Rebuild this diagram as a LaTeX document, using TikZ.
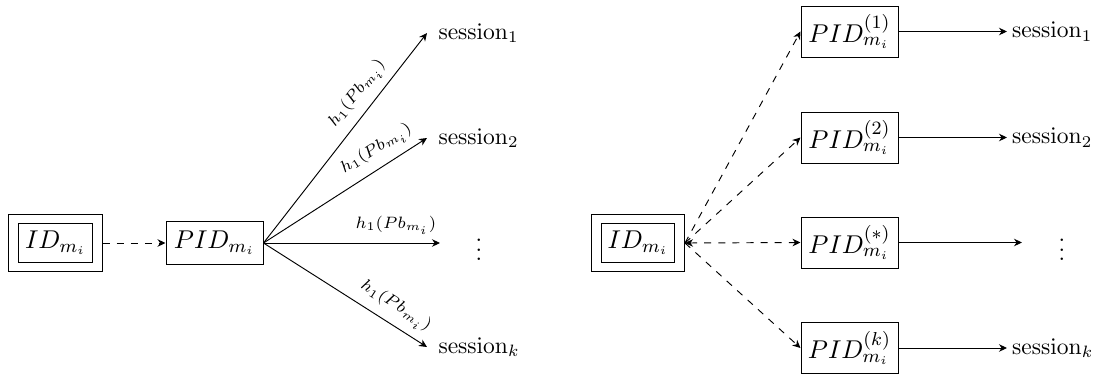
\documentclass[tikz,border=0pt]{standalone}
\usepackage{amsmath}
\usetikzlibrary{arrows.meta}
\begin{document}
\begin{tikzpicture}[x=0.4255pt,y=-0.4255pt,
  >={Stealth[length=3.4pt, width=3.2pt, inset=1.1pt]},
  boxfont/.style={font=\fontsize{11}{13}\selectfont},
  pidbox/.style={draw, inner sep=1pt, boxfont, minimum width=41.3pt, minimum height=17.9pt},
  pidtall/.style={pidbox, minimum height=21.7pt},
  idin/.style={draw, inner sep=1pt, boxfont, minimum width=31.1pt, minimum height=16.2pt},
  idout/.style={draw, inner sep=0pt, minimum width=39.6pt, minimum height=24.5pt},
  sessL/.style={anchor=west, inner sep=4.7pt},
  sessR/.style={anchor=west, inner sep=2pt},
  lab/.style={font=\scriptsize, above, sloped},
  link/.style={->},
  dlink/.style={->, dashed}]
\useasboundingbox (0,0) rectangle (1102,375);

% ---------- left: one pseudonym, several hashed sessions ----------
\node[idout] (idLo) at (55.5,243) {};
\node[idin]  (idLi) at (55.5,243) {$ID_{m_i}$};
\node[pidbox] (pidL) at (214.5,243) {$PID_{m_i}$};

\node[sessL] (sL1) at (427,33)  {$\mathrm{session}_1$};
\node[sessL] (sL2) at (427,138) {$\mathrm{session}_2$};
\node[sessL] (sLk) at (427,347) {$\mathrm{session}_k$};
\node (dotsL) at (479,243) {$\vdots$};
\coordinate (endL) at (440,243);

\draw[dlink] (idLo.east) -- (pidL.west);
\draw[link] (pidL.east) -- node[lab, pos=0.66] {$h_1(Pb_{m_i})$} (sL1.west);
\draw[link] (pidL.east) -- node[lab, pos=0.75] {$h_1(Pb_{m_i})$} (sL2.west);
\draw[link] (pidL.east) -- node[lab, pos=0.75] {$h_1(Pb_{m_i})$} (endL);
\draw[link] (pidL.east) -- node[lab, pos=0.75] {$h_1(Pb_{m_i})$} (sLk.west);

% ---------- right: one pseudonym per session ----------
\node[idout] (idRo) at (638,243) {};
\node[idin]  (idRi) at (638,243) {$ID_{m_i}$};

\node[pidtall] (p1) at (849.5,31.5)  {$PID_{m_i}^{(1)}$};
\node[pidtall] (p2) at (849.5,137.5) {$PID_{m_i}^{(2)}$};
\node[pidtall] (ps) at (849.5,242.5) {$PID_{m_i}^{(*)}$};
\node[pidtall] (pk) at (849.5,348)   {$PID_{m_i}^{(k)}$};

\node[sessR] (sR1) at (1007,31.5)  {$\mathrm{session}_1$};
\node[sessR] (sR2) at (1007,137.5) {$\mathrm{session}_2$};
\node[sessR] (sRk) at (1007,348)   {$\mathrm{session}_k$};
\node (dotsR) at (1062,243) {$\vdots$};
\coordinate (endR) at (1022,242.5);

\draw[dlink] (idRo.east) -- (p1.west);
\draw[dlink] (idRo.east) -- (p2.west);
\draw[dlink, <->] (idRo.east) -- (ps.west);
\draw[dlink] (idRo.east) -- (pk.west);

\draw[link] (p1.east) -- (sR1.west);
\draw[link] (p2.east) -- (sR2.west);
\draw[link] (ps.east) -- (endR);
\draw[link] (pk.east) -- (sRk.west);
\end{tikzpicture}
\end{document}
